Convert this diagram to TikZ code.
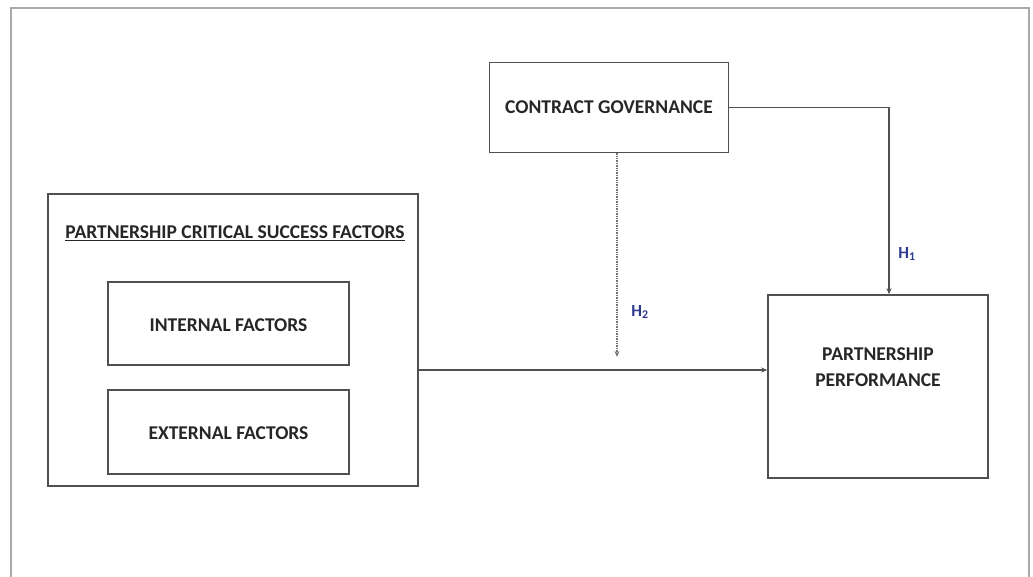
\documentclass[tikz,border=0pt]{standalone}
\usepackage{fontspec}
\setmainfont{Carlito}
\usetikzlibrary{arrows.meta}
\definecolor{boxline}{HTML}{505050}
\definecolor{frameline}{HTML}{AAAAAA}
\definecolor{hlabel}{HTML}{2E3B8C}
\begin{document}
\begin{tikzpicture}[x=1pt,y=-1pt,
  box/.style={draw=boxline, line width=1.6pt, fill=white, inner sep=0pt},
  lbl/.style={font=\fontsize{19.5}{23}\selectfont\bfseries, text=black!85, align=center},
  hyp/.style={font=\fontsize{17}{19}\selectfont\bfseries, text=hlabel},
  conn/.style={draw=boxline, line width=1.6pt, -{Stealth[length=6pt,width=5pt]}}]
\useasboundingbox (0,0) rectangle (1033,577);
% outer frame (left, top, right edges)
\draw[frameline, line width=2pt] (11,580) -- (11,8) -- (1029,8) -- (1029,580);

% boxes
\node[box, minimum width=239pt, minimum height=90pt] (cg) at (609,107.5) {};
\node[lbl] at (cg.center) {CONTRACT GOVERNANCE};

\node[box, minimum width=370pt, minimum height=292pt] (csf) at (233,340) {};
\node[lbl] (csft) at (235,233) {\underline{PARTNERSHIP CRITICAL SUCCESS FACTORS}};

\node[box, minimum width=241pt, minimum height=83pt] (inf) at (228.5,323.5) {};
\node[lbl] at (228.5,325) {INTERNAL FACTORS};
\node[box, minimum width=241pt, minimum height=84pt] (exf) at (228.5,432) {};
\node[lbl] at (228.5,433) {EXTERNAL FACTORS};

\node[box, minimum width=220pt, minimum height=183pt] (pp) at (878,386.5) {};
\node[lbl] at (878,367) {PARTNERSHIP\\[3pt]PERFORMANCE};

% connectors
\coordinate (mid) at (617,370);
\coordinate (h2end) at (617,357);
\draw[conn] (csf.east |- mid) -- (pp.west |- mid);
\draw[draw=boxline!80, line width=1.4pt, densely dotted, -{Stealth[length=6pt,width=5pt]}] (cg.south -| mid) -- (h2end);
\coordinate (bend) at (889,107.5);
\draw[conn] (cg.east) -- (bend) -- (pp.north -| bend);

% hypothesis labels
\node[hyp] (h1) at (907,254) {H\textsubscript{1}};
\node[hyp] (h2) at (640,312) {H\textsubscript{2}};
\end{tikzpicture}
\end{document}
